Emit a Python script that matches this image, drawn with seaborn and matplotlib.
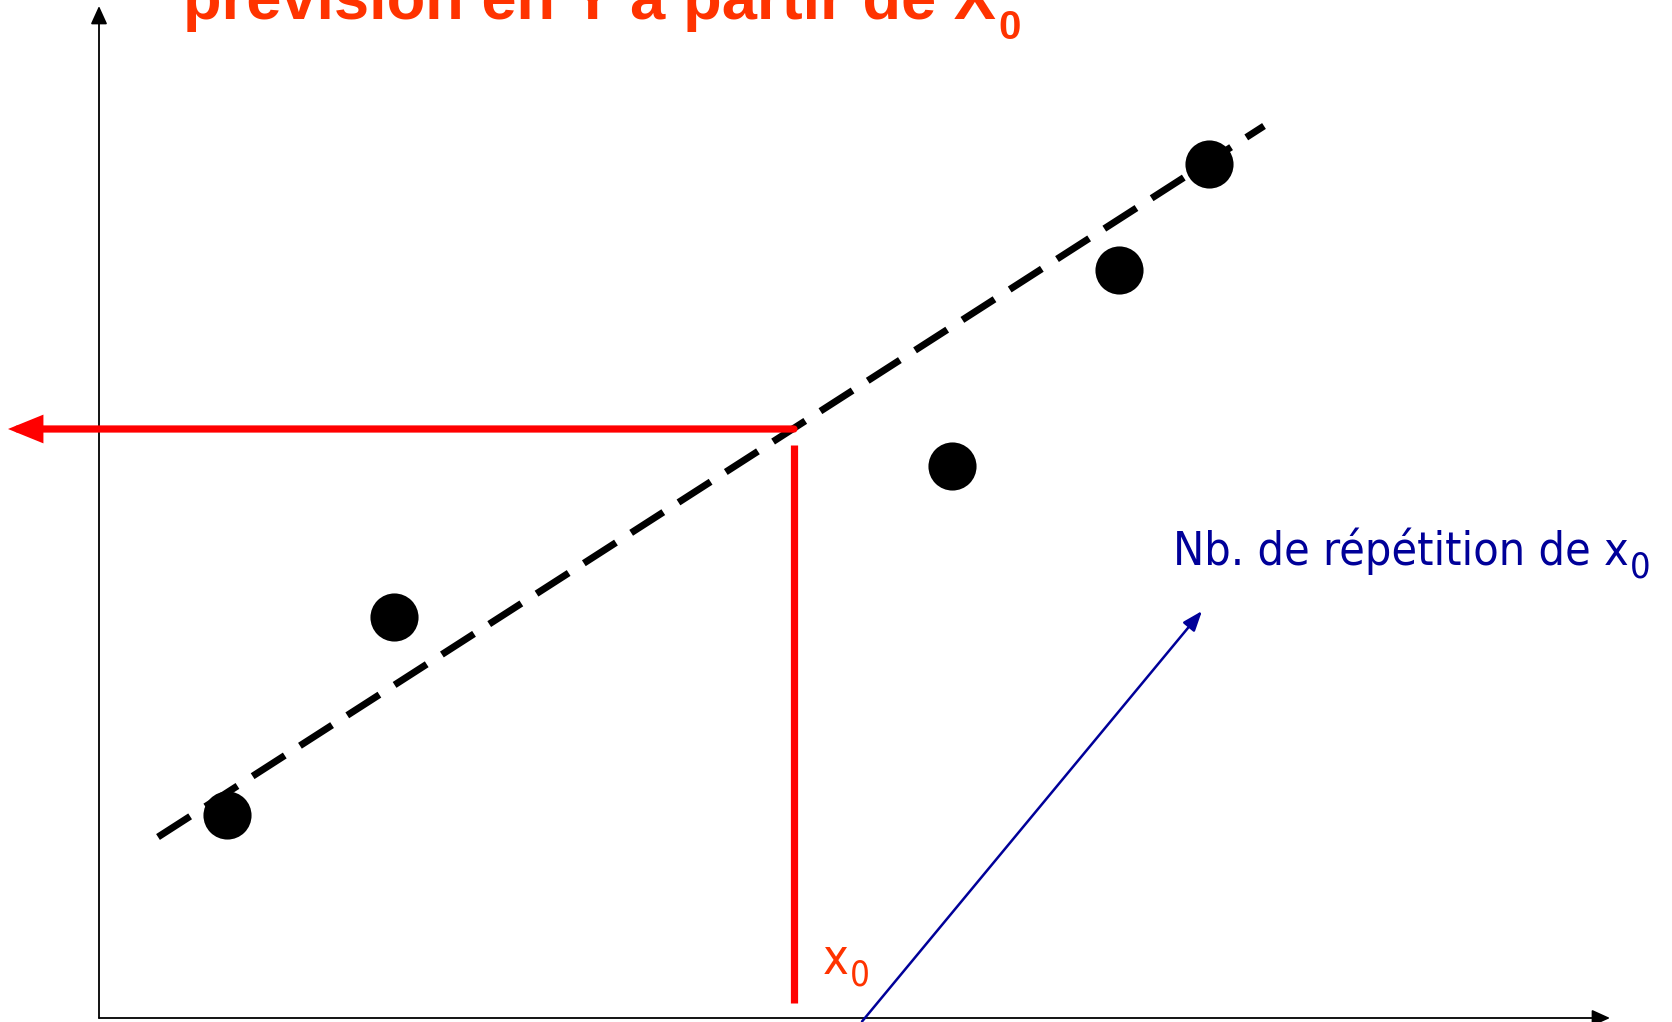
import numpy as np
import pandas as pd
import matplotlib
matplotlib.use("Agg")
import matplotlib.pyplot as plt
import seaborn as sns

# data (arbitrary units, origin at the axes corner)
pts_x = [1.28, 2.95, 8.53, 10.20, 11.10]
pts_y = [2.03, 4.01, 5.52, 7.48, 8.54]
fit_x = [0.59, 11.65]
fit_y = [1.81, 8.92]
x0 = 6.95
y_pred = 5.89
vline_y = [0.15, 5.73]
hline_end = -0.91
rep_start = (7.63, -0.035)
rep_end = (11.03, 4.07)
axis_len_x = 15.11
axis_len_y = 10.12

title_txt = "prévision en Y à partir de X"
x0_txt = "x"
rep_txt = "Nb. de répétition de x"
sub_txt = "0"

TITLE_COL = "#FF3300"
RED = "#FF0000"
NAVY = "#000099"

sns.set_theme(style="white")
plt.rcParams['font.family'] = ['DejaVu Sans']

fig = plt.figure(figsize=(16.72, 10.22), dpi=100)
ax = fig.add_axes([0, 0, 1, 1])
ax.set_xlim(-0.99, 15.73)
ax.set_ylim(-0.04, 10.18)
ax.axis("off")

# axes arrows
ax.annotate("", xy=(axis_len_x, 0), xytext=(0, 0),
            arrowprops=dict(arrowstyle="-|>,head_length=1.1,head_width=0.5",
                            mutation_scale=10, lw=1.3, color="black",
                            shrinkA=0, shrinkB=0))
ax.annotate("", xy=(0, axis_len_y), xytext=(0, 0),
            arrowprops=dict(arrowstyle="-|>,head_length=1.1,head_width=0.5",
                            mutation_scale=10, lw=1.3, color="black",
                            shrinkA=0, shrinkB=0))

# dashed fit line
df_fit = pd.DataFrame({"x": fit_x, "y": fit_y})
sns.lineplot(data=df_fit, x="x", y="y", ax=ax, color="black", lw=5,
             linestyle=(0, (5.5, 2.6)))
ax.lines[-1].set_dash_capstyle("butt")

# points
df_pts = pd.DataFrame({"x": pts_x, "y": pts_y})
sns.scatterplot(data=df_pts, x="x", y="y", ax=ax, s=1200, color="black",
                edgecolor="black", linewidth=0, zorder=5)

# red prediction lines
ax.plot([x0, x0], vline_y, color=RED, lw=5.2, solid_capstyle="butt")
ax.annotate("", xy=(hline_end, y_pred), xytext=(x0, y_pred),
            arrowprops=dict(arrowstyle="-|>,head_length=1.6,head_width=0.65",
                            mutation_scale=10, lw=5.2, color=RED,
                            shrinkA=0, shrinkB=0, joinstyle="miter"))

# navy arrow
ax.annotate("", xy=rep_end, xytext=rep_start,
            arrowprops=dict(arrowstyle="-|>,head_length=1.2,head_width=0.45",
                            mutation_scale=10, lw=1.8, color=NAVY,
                            shrinkA=0, shrinkB=0))

# texts
t = ax.text(0.84, 9.99, title_txt, color=TITLE_COL, fontsize=45.5,
            fontweight="bold", family="Liberation Sans", va="baseline")
ax.annotate(sub_txt, xy=(1, 0), xycoords=t, xytext=(2, -5),
            textcoords="offset points", color=TITLE_COL, fontsize=29,
            fontweight="bold", family="Liberation Sans", va="baseline")

t2 = ax.text(7.24, 0.44, x0_txt, color=TITLE_COL, fontsize=35,
             fontstretch="condensed", va="baseline")
ax.annotate(sub_txt, xy=(1, 0), xycoords=t2, xytext=(1, -1),
            textcoords="offset points", color=TITLE_COL, fontsize=25,
            fontstretch="condensed", va="baseline")

t3 = ax.text(10.74, 4.53, rep_txt, color=NAVY, fontsize=33.5,
             fontstretch="condensed", va="baseline")
ax.annotate(sub_txt, xy=(1, 0), xycoords=t3, xytext=(1, -2),
            textcoords="offset points", color=NAVY, fontsize=26,
            fontstretch="condensed", va="baseline")

fig.savefig("out.png", dpi=100)
